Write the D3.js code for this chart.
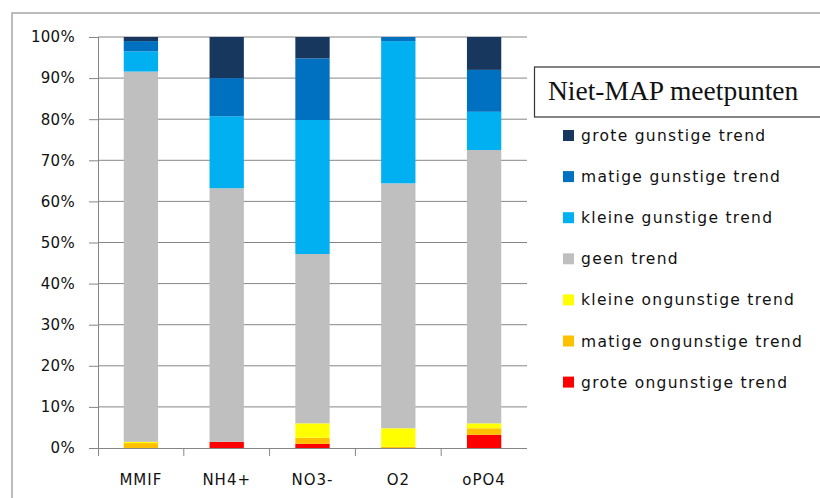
<!DOCTYPE html>
<html><head><meta charset="utf-8">
<script src="https://cdn.jsdelivr.net/npm/d3@7"></script>
<style>body{margin:0;background:#fff}svg{display:block}</style>
</head><body>
<script>
const categories = ["MMIF", "NH4+", "NO3-", "O2", "oPO4"];
const seriesNames = ["grote ongunstige trend", "matige ongunstige trend", "kleine ongunstige trend", "geen trend", "kleine gunstige trend", "matige gunstige trend", "grote gunstige trend"];
const seriesColors = ["#FF0000", "#FFC000", "#FFFF00", "#BFBFBF", "#00B0F0", "#0070C0", "#17375E"];
// values per series (percent), in category order
const groteOngunstig  = [0,   1.5, 1.0, 0,   3.2];
const matigeOngunstig = [1.2, 0,   1.5, 0.3, 1.6];
const kleineOngunstig = [0.3, 0,   3.5, 4.5, 1.2];
const geenTrend       = [90.1,61.7,41.2,59.6,66.5];
const kleineGunstig   = [4.9, 17.5,32.6,34.6,9.3];
const matigeGunstig   = [2.5, 9.3, 15.0,1.0, 10.2];
const groteGunstig    = [1.0, 10.0,5.2, 0,   8.0];
const yTicks = [0,10,20,30,40,50,60,70,80,90,100];
const legendTitle = "Niet-MAP meetpunten";

const seriesValues = [groteOngunstig, matigeOngunstig, kleineOngunstig, geenTrend, kleineGunstig, matigeGunstig, groteGunstig];

const W = 820, H = 498;
const svg = d3.select("body").append("svg").attr("width", W).attr("height", H);

// outer chart border
svg.append("rect").attr("x", 12).attr("y", 13).attr("width", W + 10).attr("height", H + 10)
  .attr("fill", "none").attr("stroke", "#A6A6A6").attr("stroke-width", 1.5);

const x0 = 98, x1 = 527, yTop = 37, yBot = 448;
const x = d3.scaleBand().domain(categories).range([x0, x1]).paddingInner(0.6).paddingOuter(0.3);
const y = d3.scaleLinear().domain([0, 100]).range([yBot, yTop]);

// gridlines
svg.append("g").selectAll("line").data(yTicks.filter(d => d > 0)).join("line")
  .attr("x1", x0).attr("x2", x1).attr("y1", d => y(d)).attr("y2", d => y(d))
  .attr("stroke", "#868686").attr("stroke-width", 1);

// stacked data
const rows = categories.map((c, i) => {
  const o = {cat: c};
  seriesNames.forEach((s, j) => o[s] = seriesValues[j][i]);
  return o;
});
const stack = d3.stack().keys(seriesNames)(rows);
svg.append("g").selectAll("g").data(stack).join("g")
  .attr("fill", (d, i) => seriesColors[i])
  .selectAll("rect").data(d => d).join("rect")
  .attr("x", d => x(d.data.cat)).attr("width", x.bandwidth())
  .attr("y", d => y(Math.min(100, d[1]))).attr("height", d => Math.max(0, y(d[0]) - y(Math.min(100, d[1]))));

const txtColor = "#111";
// y axis
const yAxis = d3.axisLeft(y).tickValues(yTicks).tickFormat(d => d + "%").tickSize(9).tickPadding(14);
const gy = svg.append("g").attr("transform", `translate(${x0},0)`).call(yAxis);
gy.select(".domain").attr("stroke", "#868686").attr("d", `M0.5,${yTop}V${yBot + 8}`);
gy.selectAll(".tick line").attr("stroke", "#868686");
gy.selectAll("text").attr("font-family", "DejaVu Sans, sans-serif").attr("font-size", 15)
  .attr("fill", txtColor).attr("letter-spacing", "0.3px");

// x axis
const xAxis = d3.axisBottom(x).tickSize(0).tickPadding(26);
const gx = svg.append("g").attr("transform", `translate(0,${yBot})`).call(xAxis);
gx.select(".domain").attr("stroke", "#868686").attr("d", `M${x0},0.5H${x1}`);
gx.selectAll("text").attr("font-family", "DejaVu Sans, sans-serif").attr("font-size", 15)
  .attr("fill", txtColor).attr("letter-spacing", "1px");
// category separators
const seps = categories.slice(1).map(c => x(c) - x.step() * x.paddingInner() / 2);
svg.append("g").selectAll("line").data(seps).join("line")
  .attr("x1", d => d).attr("x2", d => d).attr("y1", yBot).attr("y2", yBot + 8)
  .attr("stroke", "#868686");

// legend
svg.append("rect").attr("x", 534.5).attr("y", 67).attr("width", 300).attr("height", 50)
  .attr("fill", "#fff").attr("stroke", "#333").attr("stroke-width", 1.2);
svg.append("text").attr("x", 548).attr("y", 100).text(legendTitle)
  .attr("font-family", "Liberation Serif, serif").attr("font-size", 27.5).attr("fill", "#111");

const legendOrder = seriesNames.slice().reverse();
const lg = svg.append("g").selectAll("g").data(legendOrder).join("g")
  .attr("transform", (d, i) => `translate(563,${136 + i * 41.1})`);
lg.append("rect").attr("x", 0).attr("y", -6).attr("width", 11).attr("height", 11)
  .attr("fill", d => seriesColors[seriesNames.indexOf(d)]);
lg.append("text").attr("x", 18).attr("y", 5).text(d => d)
  .attr("font-family", "DejaVu Sans, sans-serif").attr("font-size", 15.5).attr("fill", txtColor)
  .attr("letter-spacing", "1.3px");
</script>
</body></html>
